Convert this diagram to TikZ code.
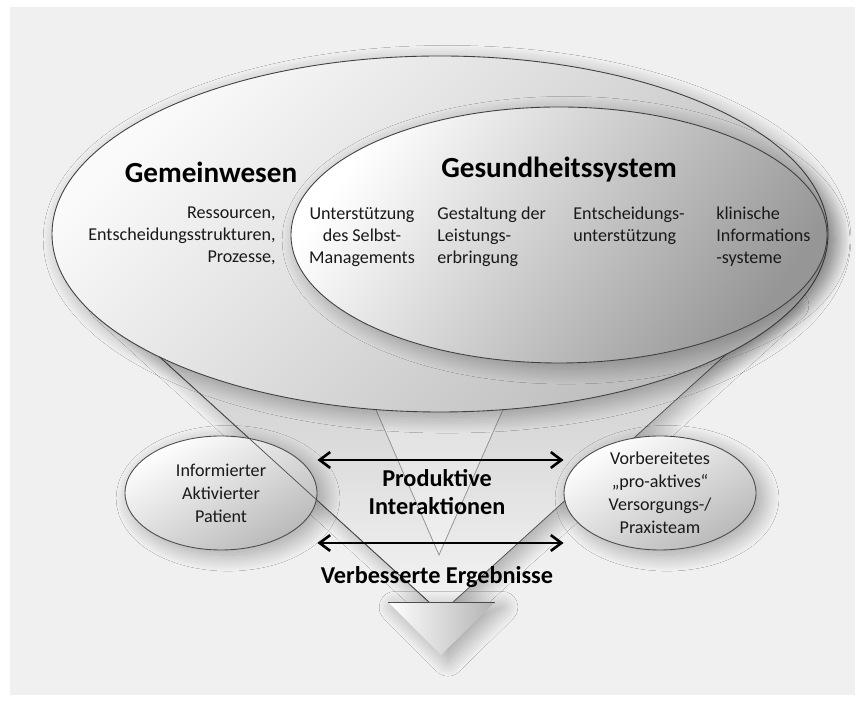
\documentclass[tikz,border=0pt]{standalone}
\usepackage{fontspec}
\setmainfont{Carlito}
\usepackage{tikz}
\usetikzlibrary{shapes.geometric, arrows.meta, positioning, shadows.blur, calc}
\usepackage{xcolor}
\definecolor{pagegray}{RGB}{240, 240, 240}
\definecolor{lightshade}{RGB}{250, 250, 250}
\definecolor{darkshade}{RGB}{150, 150, 150}
\definecolor{midshade}{RGB}{185, 185, 185}
\definecolor{textgray}{RGB}{25, 25, 25}

\begin{document}
\begin{tikzpicture}[
  softshadow/.style = {blur shadow={shadow xshift=4pt, shadow yshift=-3pt,
                       shadow blur radius=9pt, shadow blur steps=30,
                       shadow opacity=32}},
  bigell/.style     = {ellipse, draw=black!75, line width=0.5pt, inner sep=0pt,
                       top color=lightshade, bottom color=midshade,
                       shading angle=45, softshadow},
  healthell/.style  = {bigell, top color=white, bottom color=darkshade,
                       shading angle=55},
  smallell/.style   = {ellipse, draw=black!70, line width=0.5pt, inner sep=0pt,
                       minimum width=3.84cm, minimum height=2.28cm,
                       top color=white, bottom color=midshade, shading angle=30,
                       softshadow},
  headline/.style   = {font=\fontsize{16.6}{19}\selectfont\bfseries, text=black},
  boldlabel/.style  = {font=\fontsize{13.8}{16.4}\selectfont\bfseries, text=black,
                       align=center},
  bodytext/.style   = {font=\fontsize{10.3}{12.5}\selectfont, text=textgray,
                       inner sep=0pt},
  celltext/.style   = {font=\fontsize{10.3}{13}\selectfont, text=textgray,
                       align=center},
  funline/.style    = {draw=black!70, line width=0.4pt},
  dblarrow/.style   = {{Straight Barb[length=6pt,width=9pt]}-{Straight Barb[length=6pt,width=9pt]},
                       line width=1.5pt}
]

%% Page
\useasboundingbox (0,0) rectangle (17.3,14.04);
\fill[white] (0,0) rectangle (17.3,14.04);
\fill[pagegray] (0.2,0.14) rectangle (17.1,13.9);

%% Funnel
\coordinate (funtl) at (1.94,8.04);
\coordinate (funtr) at (15.72,8.04);
\coordinate (funap) at (8.82,1.78);
\shade[top color=gray!45, bottom color=gray!8, softshadow]
  (funtl) -- (funtr) -- (funap) -- cycle;
\draw[funline] (funtl) -- (funap) -- (funtr);

%% Patient
\node[smallell] (pat) at (4.42,4.18) {};
\draw[funline] (funtl) -- (funap);

%% Inner funnel
\coordinate (intl) at (7.26,6.44);
\coordinate (intr) at (10.32,6.44);
\coordinate (inap) at (8.78,2.94);
\draw[draw=black!45, line width=0.4pt, fill=white, fill opacity=0.25]
  (intl) -- (inap) -- (intr);

%% Gemeinwesen / Gesundheitssystem
\node[bigell, minimum width=15.52cm, minimum height=7.12cm] (gem) at (8.8,9.36) {};
\node[healthell, minimum width=10.72cm, minimum height=5.12cm] (ges) at (11.18,9.34) {};

%% Team
\node[smallell] (team) at (13.2,4.18) {};

%% Outcome triangle
\coordinate (outl) at (7.76,2.0);
\coordinate (outr) at (9.9,2.0);
\coordinate (outap) at (8.82,0.94);
\shade[left color=white, right color=gray!60, softshadow]
  (outl) -- (outr) -- (outap) -- cycle;
\draw[black!70, line width=0.4pt] (outl) -- (outr);

%% Headlines
\node[headline] (gemtitle) at (4.22,10.60) {Gemeinwesen};
\node[headline] (gestitle) at (11.18,10.64) {Gesundheitssystem};

%% Components
\node[bodytext, anchor=north east, align=right] (ressourcen) at (5.52,9.9)
  {Ressourcen,\\Entscheidungsstrukturen,\\Prozesse,};
\node[bodytext, anchor=north, align=center] (selbst) at (7.24,9.9)
  {Unterstützung\\des Selbst-\\Managements};
\node[bodytext, anchor=north west, align=left] (gestaltung) at (8.74,9.9)
  {Gestaltung der\\Leistungs-\\erbringung};
\node[bodytext, anchor=north west, align=left] (entscheid) at (11.46,9.9)
  {Entscheidungs-\\unterstützung};
\node[bodytext, anchor=north west, align=left] (klinisch) at (14.32,9.9)
  {klinische\\Informations\\-systeme};

%% Small ellipse texts
\node[celltext] at (pat) {Informierter\\Aktivierter\\Patient};
\node[celltext] at (team) {Vorbereitetes\\„pro-aktives“\\Versorgungs-/\\Praxisteam};

%% Interactions
\draw[dblarrow] ([yshift=0.66cm]pat.east) -- ([yshift=0.66cm]team.west);
\draw[dblarrow] ([yshift=-1.0cm]pat.east) -- ([yshift=-1.0cm]team.west);
\node[boldlabel] (interakt) at (8.74,4.20) {Produktive\\Interaktionen};
\node[boldlabel] (ergebnis) at (8.74,2.50) {Verbesserte Ergebnisse};

\end{tikzpicture}
\end{document}
